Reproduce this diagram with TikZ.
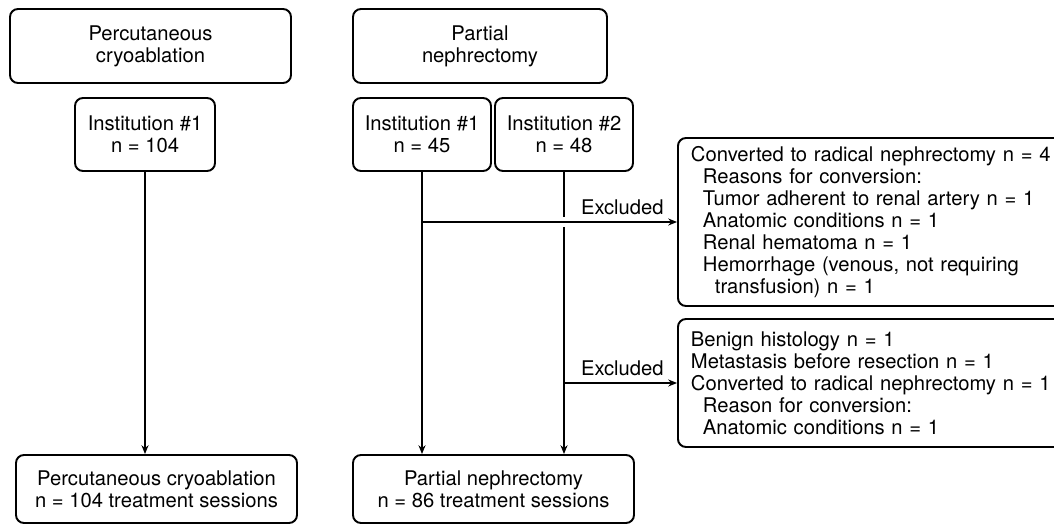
\documentclass[tikz,border=0pt]{standalone}
\usepackage{fontspec}
\setmainfont{TeX Gyre Heros}
\usepackage{tikz}
\usetikzlibrary{arrows.meta}

% unita' in pixel
\newdimen\pxu
\pxu=0.2mm
\newcommand{\ind}{\hspace*{2.4mm}}

\begin{document}
\begin{tikzpicture}[x=0.2mm, y=-0.2mm,
  box/.style={draw, line width=1.1pt, rounded corners=1.6mm, align=center,
    inner sep=0pt, font=\fontsize{11.5}{12.5}\selectfont},
  exbox/.style={box, anchor=west, align=left, minimum width=400\pxu,
    text width=374\pxu, inner xsep=13\pxu},
  arr/.style={line width=1pt, -{Stealth[length=5pt,width=4pt]}},
  lbl/.style={font=\fontsize{11.5}{12.5}\selectfont, inner sep=0pt}]

\useasboundingbox (0,0) rectangle (1054,525);
\clip (0,0) rectangle (1054,525);

% Riquadri in alto
\node[box, minimum width=281\pxu, minimum height=74\pxu] (pctop) at (150.5,46) {Percutaneous\\cryoablation};
\node[box, minimum width=254\pxu, minimum height=74\pxu] (pntop) at (480,46) {Partial\\nephrectomy};

% Istituzioni
\node[box, minimum width=140\pxu, minimum height=73\pxu] (pcinst) at (145,134.5) {Institution \#1\\n = 104};
\node[box, minimum width=138\pxu, minimum height=73\pxu] (pninsta) at (422,134.5) {Institution \#1\\n = 45};
\node[box, minimum width=138\pxu, minimum height=73\pxu] (pninstb) at (564,134.5) {Institution \#2\\n = 48};

% Esclusi
\node[exbox, minimum height=168\pxu] (exca) at (677,222) {Converted to radical nephrectomy n = 4\\
  \ind Reasons for conversion:\\
  \ind Tumor adherent to renal artery n = 1\\
  \ind Anatomic conditions n = 1\\
  \ind Renal hematoma n = 1\\
  \ind Hemorrhage (venous, not requiring\\
  \ind\ind transfusion) n = 1};
\node[exbox, minimum height=128\pxu] (excb) at (677,383) {Benign histology n = 1\\
  Metastasis before resection n = 1\\
  Converted to radical nephrectomy n = 1\\
  \ind Reason for conversion:\\
  \ind Anatomic conditions n = 1};

% Riquadri finali
\node[box, minimum width=281\pxu, minimum height=68\pxu] (pcout) at (156.5,489) {Percutaneous cryoablation\\n = 104 treatment sessions};
\node[box, minimum width=281\pxu, minimum height=68\pxu] (pnout) at (493.5,489) {Partial nephrectomy\\n = 86 treatment sessions};

% Frecce
\draw[arr] (pcinst.south) -- (pcinst.south |- pcout.north);
\draw[arr] (pninsta.south) -- (pninsta.south |- pnout.north);
\coordinate (jump) at (pninstb.south |- exca.west);
\draw[line width=1pt] (pninstb.south) -- ([yshift=2.8pt]jump);
\draw[arr] ([yshift=-2.8pt]jump) -- (pninstb.south |- pnout.north);
\draw[arr] (pninsta.south |- exca.west) -- (exca.west);
\draw[arr] (pninstb.south |- excb.west) -- (excb.west);

% Etichette
\node[lbl, anchor=base east] (exla) at ([xshift=-2.6mm,yshift=1.4mm]exca.west) {Excluded};
\node[lbl, anchor=base east] (exlb) at ([xshift=-2.6mm,yshift=1.6mm]excb.west) {Excluded};

\end{tikzpicture}
\end{document}
